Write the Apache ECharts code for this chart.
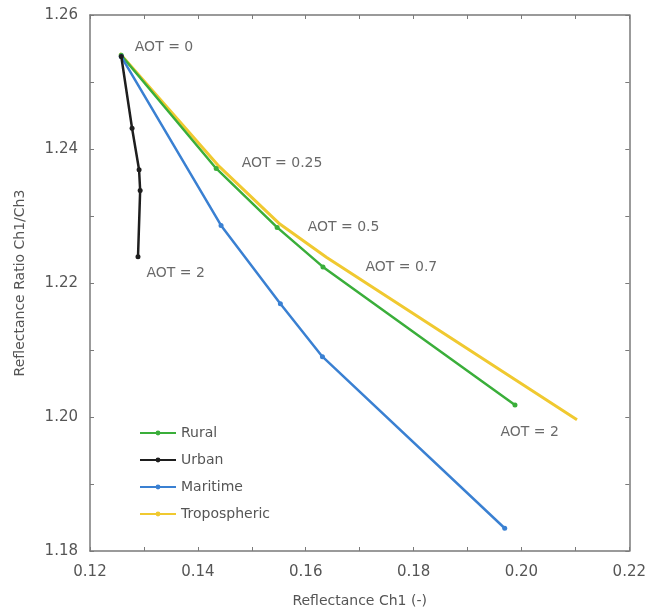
<!DOCTYPE html>
<html>
<head>
<meta charset="utf-8">
<script src="https://cdn.jsdelivr.net/npm/echarts@6/dist/echarts.min.js"></script>
<style>
  html, body { margin: 0; padding: 0; background: #fff; }
  #chart { width: 649px; height: 615px; }
</style>
</head>
<body>
<div id="chart"></div>
<script>
// Aerosol optical thickness levels along each curve
const aotLevels = [0, 0.25, 0.5, 0.7, 2];

// Reflectance Ch1 (x) and ratio Ch1/Ch3 (y) for each aerosol model
const ruralX = [0.1258, 0.1434, 0.1547, 0.1632, 0.1988];
const ruralY = [1.2540, 1.2371, 1.2283, 1.2224, 1.2018];
const urbanX = [0.1258, 0.1278, 0.1291, 0.1293, 0.1289];
const urbanY = [1.2538, 1.2431, 1.2369, 1.2338, 1.2239];
const maritimeX = [0.1258, 0.1443, 0.1553, 0.1631, 0.1969];
const maritimeY = [1.2538, 1.2286, 1.2169, 1.2090, 1.1834];
const tropoX = [0.1255, 0.1437, 0.1552, 0.1639, 0.2103];
const tropoY = [1.2543, 1.2376, 1.2288, 1.2238, 1.1996];

const xTicks = { min: 0.12, max: 0.22, step: 0.01 };
const yTicks = { min: 1.18, max: 1.26, step: 0.01 };

const pairs = (xs, ys) => xs.map((x, i) => [x, ys[i]]);

const FONT = 'DejaVu Sans';
const frameColor = '#7a7a7a';
const labelColor = '#555555';

// Show a label on every second tick only
const evenLabel = v => (Math.round(v * 100) % 2 === 0 ? v.toFixed(2) : '');

function axisBase(t) {
  return {
    type: 'value',
    min: t.min, max: t.max, interval: t.step,
    splitLine: { show: false },
    axisLine: { show: true, onZero: false, lineStyle: { color: frameColor, width: 1.5 } },
    axisTick: { show: true, inside: true, length: 4, lineStyle: { color: frameColor, width: 1 } }
  };
}

function lineSeries(name, data, color, width, symbol, z) {
  return {
    name, type: 'line', data, z,
    symbol, symbolSize: 5, showSymbol: symbol !== 'none',
    lineStyle: { color, width },
    itemStyle: { color },
    emphasis: { disabled: true },
    animation: false
  };
}

// AOT annotations, anchored to points of the curves
const notes = [
  { pt: [ruralX[0], ruralY[0]], aot: aotLevels[0], off: [13, -8] },
  { pt: [ruralX[1], ruralY[1]], aot: aotLevels[1], off: [25, -5] },
  { pt: [ruralX[2], ruralY[2]], aot: aotLevels[2], off: [30, 0] },
  { pt: [ruralX[3], ruralY[3]], aot: aotLevels[3], off: [42, 0] },
  { pt: [urbanX[4], urbanY[4]], aot: aotLevels[4], off: [8, 16] },
  { pt: [ruralX[4], ruralY[4]], aot: aotLevels[4], off: [-15, 27] }
];

const chart = echarts.init(document.getElementById('chart'), null, { renderer: 'canvas' });

chart.setOption({
  backgroundColor: '#ffffff',
  animation: false,
  textStyle: { fontFamily: FONT },
  grid: { left: 90, right: 19, top: 15, bottom: 64, containLabel: false },
  legend: {
    orient: 'vertical',
    left: 134, top: 421,
    itemWidth: 36, itemHeight: 6, itemGap: 13,
    textStyle: { fontFamily: FONT, fontSize: 14, color: labelColor },
    data: ['Rural', 'Urban', 'Maritime', 'Tropospheric']
  },
  xAxis: [
    Object.assign(axisBase(xTicks), {
      position: 'bottom',
      name: 'Reflectance Ch1 (-)', nameLocation: 'middle', nameGap: 43,
      nameTextStyle: { fontFamily: FONT, fontSize: 14, color: labelColor },
      axisLabel: { formatter: evenLabel, margin: 14, fontFamily: FONT, fontSize: 15, color: labelColor }
    }),
    Object.assign(axisBase(xTicks), { position: 'top', axisLabel: { show: false } })
  ],
  yAxis: [
    Object.assign(axisBase(yTicks), {
      position: 'left',
      name: 'Reflectance Ratio Ch1/Ch3', nameLocation: 'middle', nameGap: 63,
      nameTextStyle: { fontFamily: FONT, fontSize: 14, color: labelColor },
      axisLabel: { formatter: evenLabel, margin: 12, fontFamily: FONT, fontSize: 15, color: labelColor }
    }),
    Object.assign(axisBase(yTicks), { position: 'right', axisLabel: { show: false } })
  ],
  series: [
    lineSeries('Tropospheric', pairs(tropoX, tropoY), '#f0c930', 3, 'none', 2),
    lineSeries('Rural', pairs(ruralX, ruralY), '#3aae3a', 2.5, 'circle', 3),
    lineSeries('Urban', pairs(urbanX, urbanY), '#1e1e1e', 2.5, 'circle', 4),
    lineSeries('Maritime', pairs(maritimeX, maritimeY), '#3a80d2', 2.5, 'circle', 3),
    {
      name: 'AOT', type: 'scatter', z: 6, silent: true, animation: false,
      symbolSize: 1, itemStyle: { color: 'rgba(0,0,0,0)' },
      data: notes.map(n => ({
        value: n.pt,
        label: {
          show: true, position: 'right', distance: 0, offset: n.off,
          formatter: 'AOT = ' + n.aot,
          fontFamily: FONT, fontSize: 14, color: '#444'
        }
      }))
    }
  ]
});
</script>
</body>
</html>
